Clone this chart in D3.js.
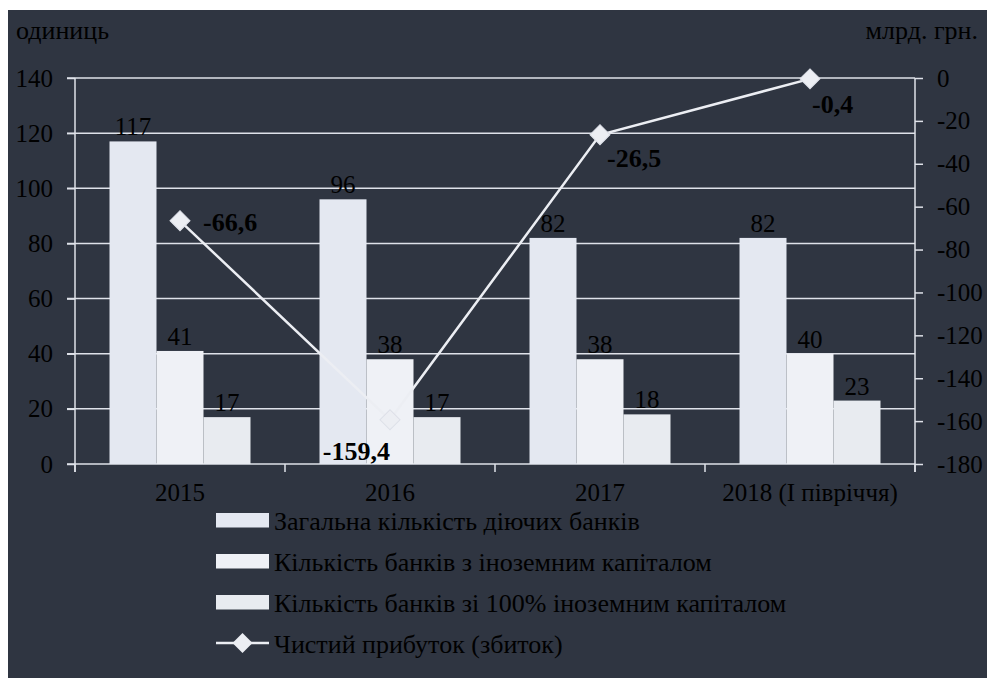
<!DOCTYPE html>
<html><head><meta charset="utf-8">
<script src="https://cdn.jsdelivr.net/npm/d3@7"></script>
<style>
html,body{margin:0;padding:0;background:#fff;}
svg{display:block;}
text{font-family:"Liberation Serif","Times New Roman",serif;fill:#000;}
</style></head>
<body>
<svg id="chart" width="987" height="678"></svg>
<script>
const categories = ["2015", "2016", "2017", "2018 (I півріччя)"];
const seriesNames = ["Загальна кількість діючих банків", "Кількість банків з іноземним капіталом", "Кількість банків зі 100% іноземним капіталом"];
const totalBanks = [117, 96, 82, 82];
const foreignBanks = [41, 38, 38, 40];
const fullForeignBanks = [17, 17, 18, 23];
const lineName = "Чистий прибуток (збиток)";
const profit = [-66.6, -159.4, -26.5, -0.4];
const profitLabels = ["-66,6", "-159,4", "-26,5", "-0,4"];
const leftTicks = [0, 20, 40, 60, 80, 100, 120, 140];
const rightTicks = [0, -20, -40, -60, -80, -100, -120, -140, -160, -180];
const leftTitle = "одиниць";
const rightTitle = "млрд. грн.";

const barColors = ["#e4e8f1", "#eff1f6", "#e8ebf0"];
const bg = "#2f3541";
const gridColor = "#dfe2e9";
// label placement offsets (styling only)
const labelPlace = [
  {dx: 23, dy: 10, anchor: "start"},
  {dx: 0, dy: 40, anchor: "end"},
  {dx: 7, dy: 32, anchor: "start"},
  {dx: 2, dy: 34, anchor: "start"}
];

const svg = d3.select("#chart");
svg.append("rect").attr("x", 8).attr("y", 10).attr("width", 979).attr("height", 668).attr("fill", bg);

const L = 75, R = 915, T = 78, B = 464;
const x0 = d3.scaleBand().domain(categories).range([L, R]).padding(0);
const x1 = d3.scaleBand().domain([0, 1, 2]).range([0, x0.bandwidth()]).paddingInner(0).paddingOuter(0.734);
const yL = d3.scaleLinear().domain([0, 140]).range([B, T]);
const yR = d3.scaleLinear().domain([-180, 0]).range([B, T]);
const fmt = d => String(d);

// gridlines
svg.append("g").selectAll("line").data(leftTicks).join("line")
  .attr("x1", L - 8).attr("x2", R).attr("y1", d => yL(d)).attr("y2", d => yL(d))
  .attr("stroke", gridColor).attr("stroke-width", 1.5);

// left axis
const gL = svg.append("g").attr("transform", `translate(${L},0)`)
  .call(d3.axisLeft(yL).tickValues(leftTicks).tickSize(8).tickPadding(14).tickFormat(fmt));
gL.attr("font-family", null).attr("font-size", null);
gL.select(".domain").remove();
gL.selectAll(".tick line").attr("stroke", gridColor).attr("stroke-width", 1.5);
gL.selectAll(".tick text").attr("font-size", 25).attr("fill", "#000");
svg.append("line").attr("x1", L).attr("x2", L).attr("y1", T).attr("y2", B + 8).attr("stroke", gridColor).attr("stroke-width", 1.5);

// right axis
const gR = svg.append("g").attr("transform", `translate(${R},0)`)
  .call(d3.axisRight(yR).tickValues(rightTicks).tickSize(8).tickPadding(14).tickFormat(fmt));
gR.attr("font-family", null).attr("font-size", null);
gR.select(".domain").remove();
gR.selectAll(".tick line").attr("stroke", gridColor).attr("stroke-width", 1.5);
gR.selectAll(".tick text").attr("font-size", 25).attr("fill", "#000");
svg.append("line").attr("x1", R).attr("x2", R).attr("y1", T).attr("y2", B + 8).attr("stroke", gridColor).attr("stroke-width", 1.5);

// x axis (category boundary ticks)
const bounds = categories.map(c => x0(c)).concat([R]);
svg.append("g").selectAll("line").data(bounds).join("line")
  .attr("x1", d => d).attr("x2", d => d).attr("y1", B).attr("y2", B + 8)
  .attr("stroke", gridColor).attr("stroke-width", 1.5);
svg.append("g").selectAll("text").data(categories).join("text")
  .attr("x", d => x0(d) + x0.bandwidth() / 2).attr("y", 501)
  .attr("text-anchor", "middle").attr("font-size", 25).text(d => d);

// bars
const seriesVals = [totalBanks, foreignBanks, fullForeignBanks];
seriesVals.forEach((vals, si) => {
  const g = svg.append("g");
  g.selectAll("rect").data(vals).join("rect")
    .attr("x", (d, i) => x0(categories[i]) + x1(si))
    .attr("width", x1.bandwidth())
    .attr("y", d => yL(d))
    .attr("height", d => yL(0) - yL(d))
    .attr("fill", barColors[si]);
  g.selectAll("text").data(vals).join("text")
    .attr("x", (d, i) => x0(categories[i]) + x1(si) + x1.bandwidth() / 2)
    .attr("y", d => yL(d) - 6)
    .attr("text-anchor", "middle").attr("font-size", 25).text(d => d);
});

// line
const cx = i => x0(categories[i]) + x0.bandwidth() / 2;
const line = d3.line().x((d, i) => cx(i)).y(d => yR(d));
svg.append("path").datum(profit).attr("d", line)
  .attr("fill", "none").attr("stroke", "#eceef3").attr("stroke-width", 2.5);
const diamond = d3.symbol().type(d3.symbolSquare).size(200);
svg.append("g").selectAll("path").data(profit).join("path")
  .attr("d", diamond)
  .attr("transform", (d, i) => `translate(${cx(i)},${yR(d)}) rotate(45)`)
  .attr("fill", "#eceef3").attr("stroke", "#dde0e8").attr("stroke-width", 1);
svg.append("g").selectAll("text").data(profit).join("text")
  .attr("x", (d, i) => cx(i) + labelPlace[i].dx)
  .attr("y", (d, i) => yR(d) + labelPlace[i].dy)
  .attr("text-anchor", (d, i) => labelPlace[i].anchor)
  .attr("font-size", 26).attr("font-weight", "bold")
  .text((d, i) => profitLabels[i]);

// axis titles
svg.append("text").attr("x", 16).attr("y", 39).attr("font-size", 26).text(leftTitle);
svg.append("text").attr("x", 978).attr("y", 39).attr("text-anchor", "end").attr("font-size", 26).text(rightTitle);

// legend
const lg = svg.append("g");
const legY = [520, 561, 602, 643];
seriesNames.forEach((n, i) => {
  lg.append("rect").attr("x", 216).attr("y", legY[i] - 7).attr("width", 53).attr("height", 14.5).attr("fill", barColors[i]);
  lg.append("text").attr("x", 274).attr("y", legY[i] + 10).attr("font-size", 26).text(n);
});
lg.append("line").attr("x1", 216).attr("x2", 269).attr("y1", legY[3]).attr("y2", legY[3]).attr("stroke", "#eceef3").attr("stroke-width", 2.5);
lg.append("path").attr("d", diamond).attr("transform", `translate(242.5,${legY[3]}) rotate(45)`).attr("fill", "#eceef3");
lg.append("text").attr("x", 274).attr("y", legY[3] + 10).attr("font-size", 26).text(lineName);
</script>
</body></html>
